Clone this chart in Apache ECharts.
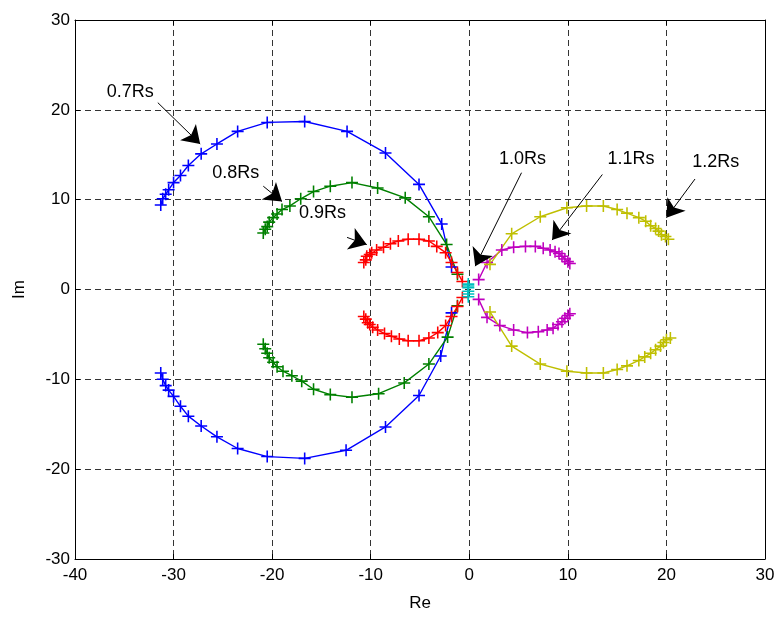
<!DOCTYPE html>
<html><head><meta charset="utf-8">
<script src="https://cdn.jsdelivr.net/npm/echarts@6/dist/echarts.min.js"></script>
<style>html,body{margin:0;padding:0;background:#fff}#c{width:778px;height:617px}</style>
</head><body><div id="c"></div>
<script>
// ---- data (Re, Im) ----
const blueUpRe = [-31.3,-31.1,-30.8,-30.5,-30.0,-29.3,-28.5,-27.2,-25.6,-23.5,-20.5,-16.7,-12.4,-8.5,-5.1,-2.8,-1.8];
const blueUpIm = [9.4,10.1,10.6,11.1,11.9,12.7,13.8,15.1,16.2,17.6,18.6,18.7,17.6,15.2,11.7,7.3,2.5];
const blueLoRe = [-31.3,-31.1,-30.8,-30.5,-30.0,-29.3,-28.5,-27.2,-25.6,-23.5,-20.5,-16.7,-12.5,-8.5,-5.1,-2.9,-1.8];
const blueLoIm = [-9.3,-10.0,-10.7,-11.2,-11.9,-13.0,-14.1,-15.2,-16.4,-17.7,-18.6,-18.8,-17.9,-15.3,-11.8,-7.4,-2.6];

const greenUpRe = [-20.9,-20.7,-20.5,-20.3,-19.9,-19.5,-19.0,-18.2,-17.1,-15.8,-14.1,-11.9,-9.3,-6.5,-4.1,-2.3,-1.2];
const greenUpIm = [6.3,6.7,7.0,7.5,8.0,8.4,8.9,9.3,10.1,10.9,11.5,11.9,11.3,10.2,8.1,5.0,1.7];
const greenLoRe = [-20.9,-20.7,-20.5,-20.3,-19.9,-19.5,-18.9,-18.0,-17.0,-15.8,-14.1,-11.9,-9.2,-6.6,-4.1,-2.2,-1.2];
const greenLoIm = [-6.1,-6.6,-7.1,-7.6,-8.1,-8.6,-9.1,-9.6,-10.2,-11.1,-11.7,-12.0,-11.6,-10.4,-8.3,-5.3,-1.8];

const redUpRe = [-10.7,-10.5,-10.4,-10.1,-9.9,-9.4,-8.7,-8.0,-7.2,-6.2,-5.1,-4.1,-3.3,-2.4,-1.8,-1.2,-0.7];
const redUpIm = [3.0,3.3,3.7,3.9,4.1,4.4,4.7,5.1,5.4,5.6,5.6,5.4,4.8,4.1,3.0,1.9,0.9];
const redLoRe = [-10.7,-10.5,-10.3,-10.1,-9.8,-9.3,-8.6,-7.9,-7.1,-6.2,-5.1,-4.1,-3.2,-2.4,-1.8,-1.2,-0.7];
const redLoIm = [-3.0,-3.3,-3.7,-3.9,-4.2,-4.5,-4.9,-5.2,-5.5,-5.7,-5.7,-5.4,-4.8,-4.0,-3.0,-1.9,-0.9];

const cyanUpRe = [-0.1,-0.1,-0.1];
const cyanUpIm = [0.2,0.4,0.6];
const cyanLoRe = [-0.1,-0.1,-0.1];
const cyanLoIm = [-0.2,-0.5,-0.8];

const magUpRe = [0.95,1.8,3.3,4.5,5.7,6.7,7.5,8.2,8.7,9.1,9.4,9.7,10.0,10.2];
const magUpIm = [1.1,3.0,4.4,4.7,4.8,4.8,4.6,4.4,4.2,4.0,3.7,3.4,3.1,2.9];
const magLoRe = [0.95,1.8,3.1,4.5,5.9,7.0,7.9,8.5,9.0,9.4,9.7,10.0,10.2];
const magLoIm = [-1.1,-3.1,-4.0,-4.5,-4.8,-4.7,-4.5,-4.3,-3.9,-3.6,-3.2,-2.9,-2.7];

const yelUpRe = [2.1,4.3,7.2,9.9,11.9,13.6,15.0,16.0,17.2,17.9,18.4,18.9,19.2,19.5,19.9,20.2];
const yelUpIm = [2.8,6.2,8.1,9.1,9.3,9.3,8.9,8.5,8.0,7.6,7.1,6.8,6.5,6.1,5.9,5.6];
const yelLoRe = [2.1,4.3,7.2,9.9,11.9,13.6,15.0,16.0,17.2,17.8,18.4,18.9,19.4,19.7,20.0,20.4];
const yelLoIm = [-2.5,-6.3,-8.3,-9.1,-9.3,-9.3,-8.9,-8.5,-7.9,-7.5,-7.1,-6.7,-6.3,-5.9,-5.6,-5.4];

// annotations: label text, label position, arrow start, arrow tip (data coords)
const annoText  = ['0.7Rs','0.8Rs','0.9Rs','1.0Rs','1.1Rs','1.2Rs'];
const annoLabel = [[-34.4,22.0],[-23.7,13.0],[-14.9,8.5],[5.4,14.5],[16.4,14.5],[25.0,14.2]];
const annoFrom  = [[-31.6,20.8],[-20.9,11.5],[-12.4,5.8],[5.3,13.0],[13.5,12.8],[22.9,12.3]];
const annoTo    = [[-27.3,16.2],[-19.0,9.8],[-10.4,5.0],[0.6,2.6],[8.4,5.5],[20.0,8.0]];

const xTicks = [-40,-30,-20,-10,0,10,20,30];
const yTicks = [-30,-20,-10,0,10,20,30];

// ---- build ----
const zip = (a,b) => a.map((v,i)=>[v,b[i]]);
const plus = 'path://M0,8.7H20V11.3H0Z M8.7,0H11.3V20H8.7Z';
function curve(re, im, color){
  return {type:'line', data:zip(re,im), symbol:plus, symbolSize:12, showAllSymbol:true,
    itemStyle:{color:color}, lineStyle:{color:color,width:1.4}, animation:false, z:3, silent:true};
}
const series = [
  curve(blueUpRe,blueUpIm,'#0000ff'), curve(blueLoRe,blueLoIm,'#0000ff'),
  curve(greenUpRe,greenUpIm,'#008000'), curve(greenLoRe,greenLoIm,'#008000'),
  curve(redUpRe,redUpIm,'#ff0000'), curve(redLoRe,redLoIm,'#ff0000'),
  curve(cyanUpRe,cyanUpIm,'#00bfbf'), curve(cyanLoRe,cyanLoIm,'#00bfbf'),
  curve(magUpRe,magUpIm,'#bf00bf'), curve(magLoRe,magLoIm,'#bf00bf'),
  curve(yelUpRe,yelUpIm,'#bfbf00'), curve(yelLoRe,yelLoIm,'#bfbf00'),
  {type:'lines', coordinateSystem:'cartesian2d', polyline:false, animation:false, z:5, silent:true,
   symbol:['none','arrow'], symbolSize:[12,17],
   lineStyle:{color:'#000',width:1,opacity:1},
   data: annoFrom.map((f,i)=>({coords:[f, annoTo[i]]}))},
  {type:'scatter', symbolSize:0, animation:false, z:6, silent:true,
   data: annoLabel.map((p,i)=>({value:p, name:annoText[i]})),
   itemStyle:{color:'#000', opacity:1},
   label:{show:true, position:'inside', formatter:p=>p.name, color:'#000', opacity:1,
          textBorderWidth:0, fontFamily:'Liberation Sans, Arial', fontSize:18}}
];
const axisFont = {color:'#000', fontFamily:'Liberation Sans, Arial', fontSize:17};
const chart = echarts.init(document.getElementById('c'), null, {renderer:'canvas'});
chart.setOption({
  animation:false,
  backgroundColor:'#fff',
  grid:{left:75, right:13, top:20, bottom:56, containLabel:false},
  xAxis:[
    {type:'value', min:xTicks[0], max:xTicks[xTicks.length-1], interval:10, position:'bottom',
     name:'Re', nameLocation:'middle', nameGap:36, nameTextStyle:axisFont,
     axisLine:{show:true, onZero:false, lineStyle:{color:'#000',width:1}},
     axisTick:{show:true, inside:true, length:5, lineStyle:{color:'#000'}},
     axisLabel:{...axisFont, margin:8},
     splitLine:{show:true, lineStyle:{color:'#333', width:1, type:[6,4]}}},
    {type:'value', min:xTicks[0], max:xTicks[xTicks.length-1], interval:10, position:'top',
     axisLine:{show:true, onZero:false, lineStyle:{color:'#000',width:1}},
     axisTick:{show:true, inside:true, length:5, lineStyle:{color:'#000'}},
     axisLabel:{show:false}, splitLine:{show:false}}
  ],
  yAxis:[
    {type:'value', min:yTicks[0], max:yTicks[yTicks.length-1], interval:10, position:'left',
     name:'Im', nameLocation:'middle', nameGap:47, nameTextStyle:axisFont,
     axisLine:{show:true, onZero:false, lineStyle:{color:'#000',width:1}},
     axisTick:{show:true, inside:true, length:5, lineStyle:{color:'#000'}},
     axisLabel:{...axisFont, margin:5},
     splitLine:{show:true, lineStyle:{color:'#333', width:1, type:[6,4]}}},
    {type:'value', min:yTicks[0], max:yTicks[yTicks.length-1], interval:10, position:'right',
     axisLine:{show:true, onZero:false, lineStyle:{color:'#000',width:1}},
     axisTick:{show:true, inside:true, length:5, lineStyle:{color:'#000'}},
     axisLabel:{show:false}, splitLine:{show:false}}
  ],
  series: series
});
</script></body></html>
